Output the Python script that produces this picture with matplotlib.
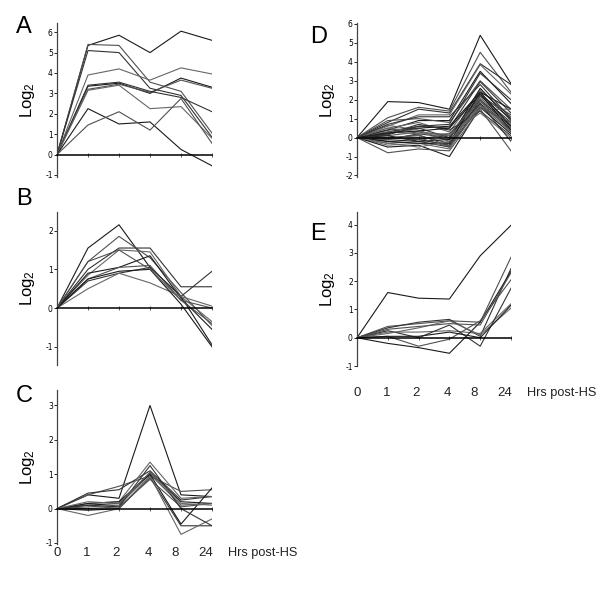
import matplotlib
matplotlib.use("Agg")
from matplotlib import pyplot as plt

plt.rcParams["axes.unicode_minus"] = False
plt.rcParams["mathtext.fontset"] = "custom"
plt.rcParams["mathtext.rm"] = "Liberation Sans"
plt.rcParams["mathtext.it"] = "Liberation Sans"

# time points (hours post heat shock), plotted at even spacing
hours = ["0", "1", "2", "4", "8", "24"]

# log2 expression profiles, one row per gene, columns = hours
panel_a = [
    [0, 5.35, 5.85, 5.00, 6.05, 5.60],
    [0, 5.40, 5.35, 3.55, 3.10, 1.05],
    [0, 5.10, 5.00, 3.25, 2.90, 0.85],
    [0, 3.90, 4.20, 3.65, 4.25, 3.95],
    [0, 3.35, 3.50, 3.00, 3.75, 3.30],
    [0, 3.20, 3.45, 3.05, 3.65, 3.25],
    [0, 3.40, 3.55, 3.10, 2.80, 2.10],
    [0, 3.15, 3.40, 2.25, 2.35, 0.80],
    [0, 2.25, 1.50, 1.60, 0.25, -0.55],
    [0, 1.45, 2.10, 1.20, 2.75, 0.55],
]

panel_b = [
    [0, 1.55, 2.15, 1.05, 0.30, -0.95],
    [0, 1.20, 1.85, 1.30, 0.40, -0.45],
    [0, 1.00, 1.55, 1.55, 0.55, 0.55],
    [0, 0.85, 1.50, 1.45, 0.30, -0.35],
    [0, 0.90, 1.05, 1.35, 0.25, -0.55],
    [0, 0.75, 1.05, 1.10, 0.20, 0.00],
    [0, 0.70, 0.90, 1.05, 0.30, 0.95],
    [0, 0.50, 0.90, 0.65, 0.30, 0.05],
    [0, 0.75, 0.95, 1.00, 0.10, -1.00],
    [0, 1.20, 1.50, 1.00, 0.20, -0.40],
]

panel_c = [
    [0, 0.40, 0.30, 3.00, 0.40, 0.35],
    [0, 0.40, 0.65, 0.95, 0.50, 0.55],
    [0, 0.45, 0.55, 1.10, 0.25, 0.35],
    [0, 0.15, 0.20, 1.35, 0.30, 0.35],
    [0, 0.10, 0.15, 1.05, 0.20, 0.15],
    [0, 0.05, 0.10, 1.00, 0.10, 0.15],
    [0, -0.05, 0.00, 0.90, -0.50, -0.50],
    [0, -0.20, 0.00, 0.95, -0.75, -0.30],
    [0, 0.15, 0.20, 1.00, -0.45, 0.60],
    [0, 0.00, 0.05, 0.85, 0.05, 0.15],
    [0, 0.10, 0.05, 1.25, 0.00, -0.50],
    [0, 0.20, 0.15, 1.05, 0.15, 0.10],
]

panel_d = [
    [0, 1.90, 1.85, 1.50, 5.40, 2.85],
    [0, 1.05, 1.60, 1.40, 4.50, 2.40],
    [0, 0.80, 1.50, 1.30, 3.90, 2.80],
    [0, 0.60, 1.20, 1.20, 3.85, 2.30],
    [0, 0.40, 0.90, 0.90, 3.50, 1.80],
    [0, 0.90, 1.00, 0.80, 3.00, 1.50],
    [0, 0.30, 0.60, 0.50, 2.95, 1.30],
    [0, 0.50, 0.80, 0.30, 2.50, 1.10],
    [0, 0.20, 0.50, 0.60, 2.40, 1.50],
    [0, 0.10, 0.30, 0.10, 2.30, 1.00],
    [0, -0.10, 0.20, 0.00, 2.20, 0.80],
    [0, 0.65, 0.40, -0.20, 2.10, 0.70],
    [0, -0.20, -0.10, -0.40, 2.00, 0.60],
    [0, 0.00, 0.10, -0.30, 1.90, 0.50],
    [0, -0.30, -0.20, -0.50, 1.80, 0.40],
    [0, -0.40, -0.30, -0.60, 1.70, 0.30],
    [0, -0.50, -0.40, -1.00, 1.60, 0.20],
    [0, -0.80, -0.60, -0.70, 1.50, -0.70],
    [0, 0.20, 0.70, 0.40, 1.40, 0.10],
    [0, 0.30, 0.20, 0.20, 1.30, 0.00],
    [0, 0.10, -0.20, -0.10, 2.60, 0.90],
    [0, -0.10, 0.00, -0.50, 2.20, 1.20],
    [0, 0.40, 0.50, 0.00, 1.80, -0.20],
    [0, 0.50, 0.30, 0.10, 1.50, 1.50],
    [0, -0.20, -0.30, -0.30, 2.40, 0.60],
    [0, 0.00, -0.10, 0.20, 2.00, 0.30],
    [0, 0.15, 0.60, 0.70, 3.40, 2.00],
    [0, -0.30, -0.50, -0.20, 1.70, 0.50],
    [0, 0.25, 0.35, 0.50, 2.30, 0.40],
    [0, -0.05, 0.15, -0.45, 1.60, 0.80],
    [0, 0.70, 1.10, 1.10, 2.80, 1.00],
]

panel_e = [
    [0, 1.60, 1.40, 1.37, 2.90, 3.98],
    [0, 0.40, 0.50, 0.60, 0.55, 2.85],
    [0, 0.35, 0.55, 0.65, 0.05, 2.45],
    [0, 0.20, 0.20, 0.25, 0.15, 1.20],
    [0, -0.20, -0.35, -0.55, 0.55, 2.35],
    [0, 0.05, -0.30, -0.05, 0.60, 2.05],
    [0, 0.25, 0.00, 0.45, -0.30, 1.75],
    [0, 0.15, 0.35, 0.60, 0.10, 1.05],
    [0, 0.05, 0.05, 0.20, 0.00, 1.15],
    [0, 0.30, 0.40, 0.50, 0.45, 2.30],
]

# layout: axes rectangles in figure fractions, y limits, y ticks
W, H = 600, 603
def rect(x0, y0, x1, y1):
    return [x0 / W, 1 - y1 / H, (x1 - x0) / W, (y1 - y0) / H]

panels = [
    ("A", panel_a, rect(57, 23, 212, 177), (-1.1, 6.45), range(-1, 7), False),
    ("B", panel_b, rect(57, 212, 212, 365), (-1.47, 2.48), range(-1, 3), False),
    ("C", panel_c, rect(57, 390, 212, 544), (-1.03, 3.45), range(-1, 4), True),
    ("D", panel_d, rect(357, 23, 511, 177), (-2.08, 6.05), range(-2, 7), False),
    ("E", panel_e, rect(357, 212, 511, 366), (-1.0, 4.45), range(-1, 5), True),
]
letter_pos = {"A": (16, 33), "B": (16, 205), "C": (16, 402), "D": (310, 43), "E": (310, 240)}
label_y = {"C": -0.058, "E": -0.175}
label_x = [0, 0.97, 1.9, 2.95, 3.8, 4.8]

fig = plt.figure(figsize=(6, 6.03), dpi=100)
colors = ["#1a1a1a", "#505050", "#333333", "#666666"]

for name, rows, r, ylim, yt, show_hours in panels:
    ax = fig.add_axes(r)
    for i, row in enumerate(rows):
        ax.plot(range(len(hours)), row, color=colors[i % len(colors)], lw=0.8)
    ax.set_xlim(0, 5)
    ax.set_ylim(*ylim)
    ax.spines["top"].set_visible(False)
    ax.spines["right"].set_visible(False)
    ax.spines["bottom"].set_position(("data", 0))
    ax.spines["bottom"].set_linewidth(1.1)
    ax.spines["left"].set_linewidth(0.9)
    ax.spines["left"].set_color("#444444")
    ax.set_xticks(range(1, 6))
    ax.set_xticklabels([])
    ax.tick_params(axis="x", direction="inout", length=3, width=0.6, color="#444444")
    ax.set_yticks(list(yt))
    ax.tick_params(axis="y", direction="out", length=2, width=0.6, labelsize=5.5, pad=1)
    ax.text(-0.19, 0.5, "Log$_2$", transform=ax.transAxes, rotation=90,
            ha="center", va="center", fontsize=12, family="Liberation Sans")
    lx, ly = letter_pos[name]
    fig.text(lx / W, 1 - ly / H, name, fontsize=17, family="Liberation Sans",
             ha="left", va="baseline")
    if show_hours:
        tr = ax.get_xaxis_transform()
        for x, h in zip(label_x, hours):
            ax.text(x, label_y[name], h, transform=tr, ha="center", va="center",
                    fontsize=9.5, family="Liberation Sans", color="#222222")
        ax.text(5.52, label_y[name], "Hrs post-HS", transform=tr, ha="left",
                va="center", fontsize=9.2, family="Liberation Sans", color="#222222")

fig.savefig("out.png", dpi=100)
